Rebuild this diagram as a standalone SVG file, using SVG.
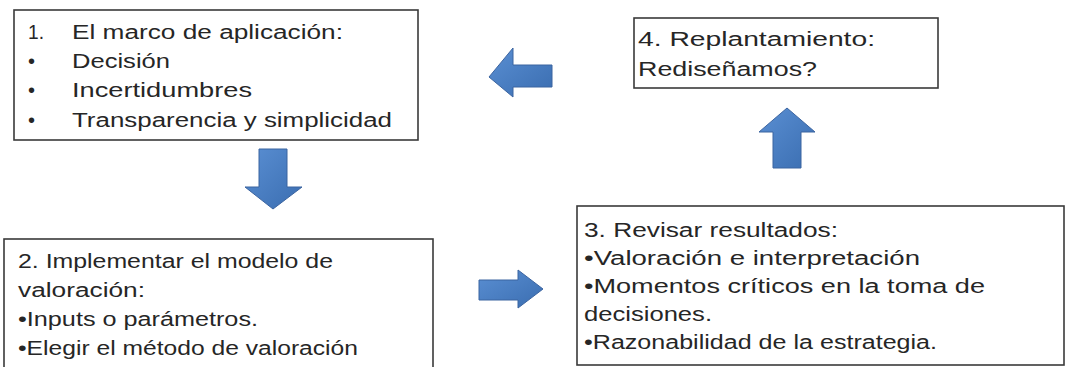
<svg xmlns="http://www.w3.org/2000/svg" width="1065" height="367" viewBox="0 0 1065 367">
<defs>
<linearGradient id="blue" x1="0" y1="0" x2="1" y2="1">
<stop offset="0" stop-color="#5a8fd3"/>
<stop offset="1" stop-color="#3a6db0"/>
</linearGradient>
<style>
.box{fill:#fff;stroke:#3a3a3a;stroke-width:1.6}
.t{font-family:"Liberation Sans",Arial,sans-serif;font-size:20px;fill:#262626}
.arr{fill:url(#blue);stroke:#3b64a0;stroke-width:1}
</style>
</defs>
<rect width="1065" height="367" fill="#fff"/>
<g id="connectors">
<polygon class="arr" points="552,65 513,65 513,48 489,77 513,97 513,87 552,87"/>
<polygon class="arr" points="259,149 287,149 287,187 302,187 273,209 245,187 259,187"/>
<polygon class="arr" points="479,280 518,280 518,270 543,289 518,308 518,300 479,300"/>
<polygon class="arr" points="773,168 773,132 759,132 787,108 815,132 801,132 801,168"/>
</g>
<g id="node1">
<rect class="box" x="14" y="10" width="404" height="130"/>
<text class="t" x="28" y="39" textLength="16" lengthAdjust="spacingAndGlyphs">1.</text>
<text class="t" x="72" y="39" textLength="271" lengthAdjust="spacingAndGlyphs">El marco de aplicación:</text>
<text class="t" x="28" y="68">•</text>
<text class="t" x="72" y="68" textLength="98" lengthAdjust="spacingAndGlyphs">Decisión</text>
<text class="t" x="28" y="97">•</text>
<text class="t" x="72" y="97" textLength="180" lengthAdjust="spacingAndGlyphs">Incertidumbres</text>
<text class="t" x="28" y="127">•</text>
<text class="t" x="72" y="127" textLength="320" lengthAdjust="spacingAndGlyphs">Transparencia y simplicidad</text>
</g>
<g id="node4">
<rect class="box" x="634" y="18" width="304" height="70"/>
<text class="t" x="638" y="46" textLength="237" lengthAdjust="spacingAndGlyphs">4. Replantamiento:</text>
<text class="t" x="638" y="76" textLength="179" lengthAdjust="spacingAndGlyphs">Rediseñamos?</text>
</g>
<g id="node2">
<rect class="box" x="4" y="239" width="429" height="140"/>
<text class="t" x="18" y="268" textLength="315" lengthAdjust="spacingAndGlyphs">2. Implementar el modelo de</text>
<text class="t" x="18" y="297" textLength="127" lengthAdjust="spacingAndGlyphs">valoración:</text>
<text class="t" x="18" y="326" textLength="240" lengthAdjust="spacingAndGlyphs">•Inputs o parámetros.</text>
<text class="t" x="18" y="355" textLength="340" lengthAdjust="spacingAndGlyphs">•Elegir el método de valoración</text>
</g>
<g id="node3">
<rect class="box" x="577" y="206" width="487" height="159"/>
<text class="t" x="584" y="237" textLength="254" lengthAdjust="spacingAndGlyphs">3. Revisar resultados:</text>
<text class="t" x="584" y="265" textLength="336" lengthAdjust="spacingAndGlyphs">•Valoración e interpretación</text>
<text class="t" x="584" y="293" textLength="401" lengthAdjust="spacingAndGlyphs">•Momentos críticos en la toma de</text>
<text class="t" x="584" y="321" textLength="128" lengthAdjust="spacingAndGlyphs">decisiones.</text>
<text class="t" x="584" y="349" textLength="353" lengthAdjust="spacingAndGlyphs">•Razonabilidad de la estrategia.</text>
</g>
</svg>
